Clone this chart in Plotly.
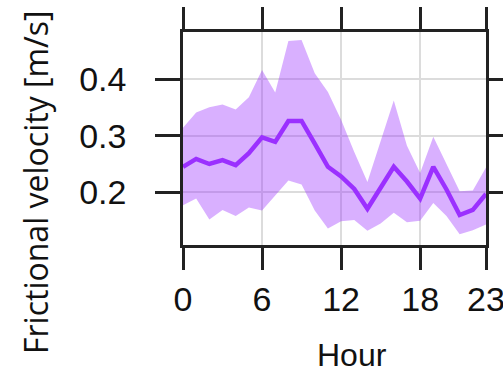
import plotly.graph_objects as go

# Hourly frictional velocity: mean and spread band
hours = list(range(24))
mean_ustar = [0.245, 0.259, 0.250, 0.257, 0.248, 0.269, 0.297, 0.289, 0.326, 0.326,
              0.286, 0.245, 0.228, 0.206, 0.171, 0.208, 0.245, 0.219, 0.189, 0.245,
              0.205, 0.160, 0.169, 0.197]
upper_ustar = [0.314, 0.341, 0.350, 0.355, 0.346, 0.368, 0.416, 0.376, 0.467, 0.469,
               0.410, 0.377, 0.328, 0.271, 0.218, 0.290, 0.362, 0.282, 0.234, 0.298,
               0.251, 0.202, 0.203, 0.244]
lower_ustar = [0.177, 0.189, 0.152, 0.169, 0.158, 0.173, 0.168, 0.194, 0.221, 0.214,
               0.168, 0.136, 0.149, 0.151, 0.132, 0.145, 0.164, 0.147, 0.150, 0.181,
               0.158, 0.126, 0.133, 0.143]

x_ticks = [0, 6, 12, 18, 23]
y_ticks = [0.2, 0.3, 0.4]
y_tick_text = ["0.2", "0.3", "0.4"]

PURPLE = "#9B30FF"
BAND = "rgba(155,48,255,0.38)"
AXIS = "#222222"
GRID = "#dcdcdc"

fig = go.Figure()

# spread band: upper edge then lower edge filled to it
fig.add_trace(go.Scatter(x=hours, y=upper_ustar, mode="lines",
                         line=dict(width=0, color=BAND), hoverinfo="skip",
                         showlegend=False))
fig.add_trace(go.Scatter(x=hours, y=lower_ustar, mode="lines",
                         line=dict(width=0, color=BAND), fill="tonexty",
                         fillcolor=BAND, hoverinfo="skip", showlegend=False))
# mean line
fig.add_trace(go.Scatter(x=hours, y=mean_ustar, mode="lines",
                         line=dict(width=4.5, color=PURPLE), showlegend=False))

tick_font = dict(family="Liberation Sans, Arial, sans-serif", size=34, color="#111111")

fig.update_xaxes(range=[0, 23], tickvals=x_ticks, ticktext=[str(v) for v in x_ticks],
                 ticks="outside", ticklen=22, tickwidth=2.5, tickcolor=AXIS,
                 showline=True, linewidth=2.5, linecolor=AXIS, mirror="ticks",
                 showgrid=True, gridcolor=GRID, gridwidth=2, zeroline=False,
                 tickfont=tick_font, ticklabelstandoff=0, automargin=False,
                 ticklabeloverflow="allow")
fig.update_yaxes(range=[0.107, 0.483], tickvals=y_ticks, ticktext=y_tick_text,
                 ticks="outside", ticklen=25, tickwidth=2.5, tickcolor=AXIS,
                 showline=True, linewidth=2.5, linecolor=AXIS, mirror="ticks",
                 showgrid=True, gridcolor=GRID, gridwidth=2, zeroline=False,
                 tickfont=tick_font, ticklabelstandoff=22, automargin=False)

fig.add_annotation(text="Frictional velocity [m/s]", xref="paper", yref="paper",
                   x=-0.485, y=0.296, xanchor="center", yanchor="middle",
                   textangle=-90, showarrow=False,
                   font=dict(family="Open Sans, sans-serif", size=32, color="#111111"))
fig.add_annotation(text="Hour", xref="paper", yref="paper",
                   x=0.559, y=-0.606, xanchor="center", yanchor="bottom",
                   showarrow=False, borderpad=0,
                   font=dict(family="Liberation Sans, Arial, sans-serif", size=32,
                             color="#111111"))

fig.update_layout(width=503, height=374, margin=dict(l=183, r=17, t=32, b=129),
                  plot_bgcolor="white", paper_bgcolor="white")

fig.write_html("out.html")
